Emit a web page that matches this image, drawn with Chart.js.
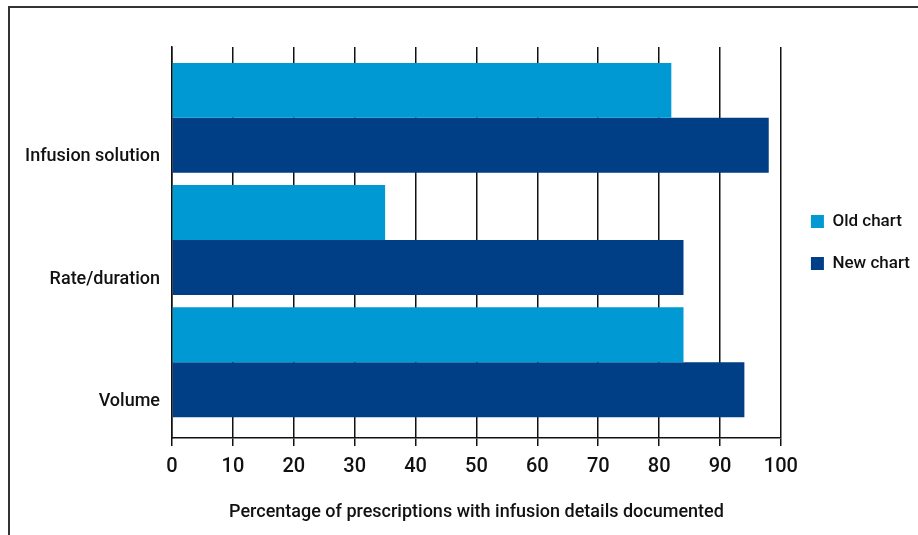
<!DOCTYPE html>
<html>
<head>
<meta charset="utf-8">
<script src="https://cdn.jsdelivr.net/npm/chart.js@4/dist/chart.umd.min.js"></script>
<style>
  html, body { margin: 0; padding: 0; background: #fff; }
  #wrap { position: relative; width: 918px; height: 535px; overflow: hidden; }
  /* frame of the printed figure, cut off at the right and bottom */
  #frame { position: absolute; left: 8px; top: 6px; width: 940px; height: 560px; border-top: 2px solid #333; border-left: 2px solid #333; }
  canvas { position: absolute; left: 0; top: 0; }
</style>
</head>
<body>
<div id="wrap">
  <div id="frame"></div>
  <canvas id="c" width="918" height="535"></canvas>
</div>
<script>
// categories top to bottom
const categories = ['Infusion solution', 'Rate/duration', 'Volume'];
const oldChart = [82, 35, 84];
const newChart = [98, 84, 94];
const seriesNames = ['Old chart', 'New chart'];
const xTicks = [0, 10, 20, 30, 40, 50, 60, 70, 80, 90, 100];
const xTitle = 'Percentage of prescriptions with infusion details documented';

const FONT = 'Roboto, "Liberation Sans", sans-serif';
const ink = '#111';

// y is a linear index axis so the bands sit inside the plot the way the print has them
const toPoints = (vals) => vals.map((v, i) => ({ x: v, y: i }));

new Chart(document.getElementById('c'), {
    type: 'bar',
    data: {
        datasets: [
            { label: seriesNames[0], data: toPoints(oldChart), backgroundColor: '#0099d4', categoryPercentage: 0.9, barPercentage: 1.0 },
            { label: seriesNames[1], data: toPoints(newChart), backgroundColor: '#003e85', categoryPercentage: 0.9, barPercentage: 1.0 },
        ],
    },
    options: {
        indexAxis: 'y',
        responsive: false,
        animation: false,
        layout: { padding: { top: 47, left: 0, right: -2, bottom: 0 } },
        plugins: {
            tooltip: { enabled: false },
            legend: {
                position: 'right',
                fullSize: false,
                labels: {
                    font: { family: FONT, size: 17, weight: 500 },
                    color: ink,
                    boxWidth: 13,
                    boxHeight: 13,
                    padding: 25,
                },
            },
        },
        scales: {
            x: {
                type: 'linear',
                min: 0,
                max: 100,
                afterBuildTicks: (s) => { s.ticks = xTicks.map((v) => ({ value: v })); },
                afterFit: (s) => { s.height = 97; },
                ticks: { font: { family: FONT, size: 20, weight: 500 }, color: ink, padding: 9, maxRotation: 0 },
                grid: { color: ink, lineWidth: 1.5, tickLength: 8, tickColor: ink },
                border: { color: ink, width: 1.5 },
                title: { display: true, text: xTitle, font: { family: FONT, size: 18, weight: 500 }, color: ink, padding: { top: 0, bottom: 12 } },
            },
            y: {
                type: 'linear',
                offset: false,
                reverse: true,
                min: -0.58,
                max: 2.62,
                afterBuildTicks: (s) => { s.ticks = categories.map((c, i) => ({ value: i })); },
                afterFit: (s) => { s.width = 172; },
                ticks: {
                    font: { family: FONT, size: 18, weight: 500 },
                    color: ink,
                    padding: 12,
                    labelOffset: 39,
                    callback: (v) => categories[v],
                },
                grid: { drawOnChartArea: false, drawTicks: false },
                border: { color: ink, width: 1.5 },
            },
            // empty spacer between the plot and the legend
            gap: {
                type: 'linear',
                axis: 'y',
                position: 'right',
                display: true,
                ticks: { display: false },
                grid: { display: false },
                border: { display: false },
                afterFit: (s) => { s.width = 5; },
            },
        },
    },
});
</script>
</body>
</html>
